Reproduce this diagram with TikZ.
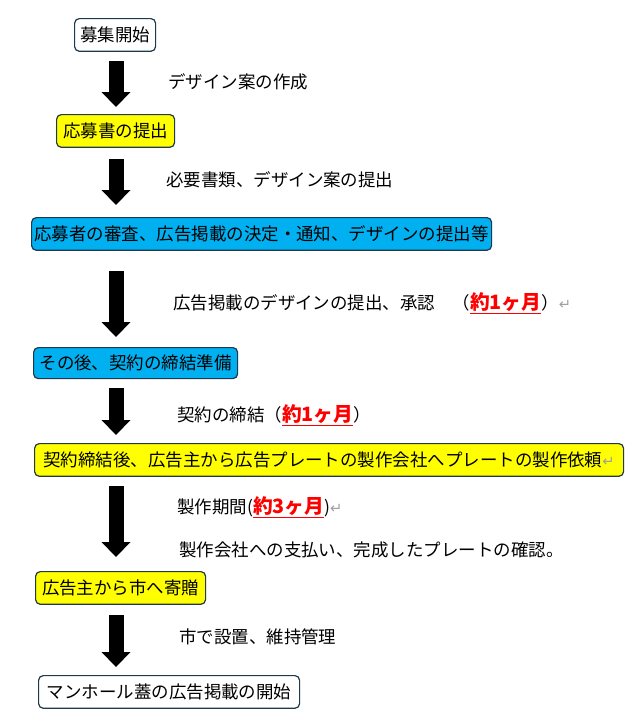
\documentclass[tikz,border=0pt]{standalone}
\usepackage{fontspec}
\setmainfont{Noto Sans CJK JP}
\newfontfamily\retfont{DejaVu Sans}
\usetikzlibrary{arrows.meta}
\definecolor{frame}{HTML}{1F3A4C}
\definecolor{stepYellow}{HTML}{FFFF00}
\definecolor{stepCyan}{HTML}{00B0F0}
\definecolor{period}{HTML}{FF0000}
\definecolor{retgray}{HTML}{A0A0A0}
\newcommand{\period}[1]{{\color{period}\bfseries\fontsize{14.8}{16}\selectfont\underline{#1}}}
\newcommand{\retmark}{{\color{retgray}\retfont\fontsize{11}{12}\selectfont ↵}}
\tikzset{
  base/.style={font=\fontsize{13.1}{15}\selectfont, text=black},
  stepbox/.style={base, draw=frame, line width=0.9pt, rounded corners=3.5pt, minimum height=24.5pt, inner sep=0pt, anchor=north west},
  startbox/.style={stepbox, fill=white},
  applybox/.style={stepbox, fill=stepYellow},
  reviewbox/.style={stepbox, fill=stepCyan},
  note/.style={base, anchor=west, inner sep=0pt},
  flow/.style={line width=11.25pt, -{Triangle[width=21.75pt,length=11.25pt,line width=0pt]}},
}

\begin{document}
\begin{tikzpicture}[x=0.75pt,y=-0.75pt]
  \useasboundingbox (0,0) rectangle (640,719);
  \coordinate (ax) at (116,0);

  \node[startbox,minimum width=60.75pt] (start) at (74,18) {募集開始};
  \node[applybox,minimum width=88.5pt] (apply) at (56,114) {応募書の提出};
  \node[reviewbox,minimum width=345pt] (review) at (31,217) {応募者の審査、広告掲載の決定・通知、デザインの提出等};
  \node[reviewbox,minimum width=153pt,minimum height=23.25pt] (prep) at (33,347) {その後、契約の締結準備};
  \node[applybox,minimum width=441.75pt] (order) at (34,443) {契約締結後、広告主から広告プレートの製作会社へプレートの製作依頼\retmark};
  \node[applybox,minimum width=127.5pt] (donate) at (35,571) {広告主から市へ寄贈};
  \node[startbox,minimum width=195.75pt] (open) at (38,675) {マンホール蓋の広告掲載の開始};

  \node[note] (n1) at (168,82) {デザイン案の作成};
  \node[note] (n2) at (166,180) {必要書類、デザイン案の提出};
  \node[note] (n3) at (173,303) {広告掲載のデザインの提出、承認　（\period{約1ヶ月}）\retmark};
  \node[note] (n4) at (177,415) {契約の締結（\period{約1ヶ月}）};
  \node[note] (n5) at (177,507) {製作期間(\period{約3ヶ月})\retmark};
  \node[note] (n6) at (179,550) {製作会社への支払い、完成したプレートの確認。};
  \node[note] (n7) at (179,637) {市で設置、維持管理};

  \draw[flow,shorten <=6.75pt,shorten >=5.25pt] (start.south -| ax) -- (apply.north -| ax);
  \draw[flow,shorten <=8.25pt,shorten >=9pt] (apply.south -| ax) -- (review.north -| ax);
  \draw[flow,shorten <=15pt,shorten >=7.5pt] (review.south -| ax) -- (prep.north -| ax);
  \draw[flow,shorten <=6.75pt,shorten >=6pt] (prep.south -| ax) -- (order.north -| ax);
  \draw[flow,shorten <=6.75pt,shorten >=10.5pt] (order.south -| ax) -- (donate.north -| ax);
  \draw[flow,shorten <=7.5pt,shorten >=6pt] (donate.south -| ax) -- (open.north -| ax);
\end{tikzpicture}
\end{document}
